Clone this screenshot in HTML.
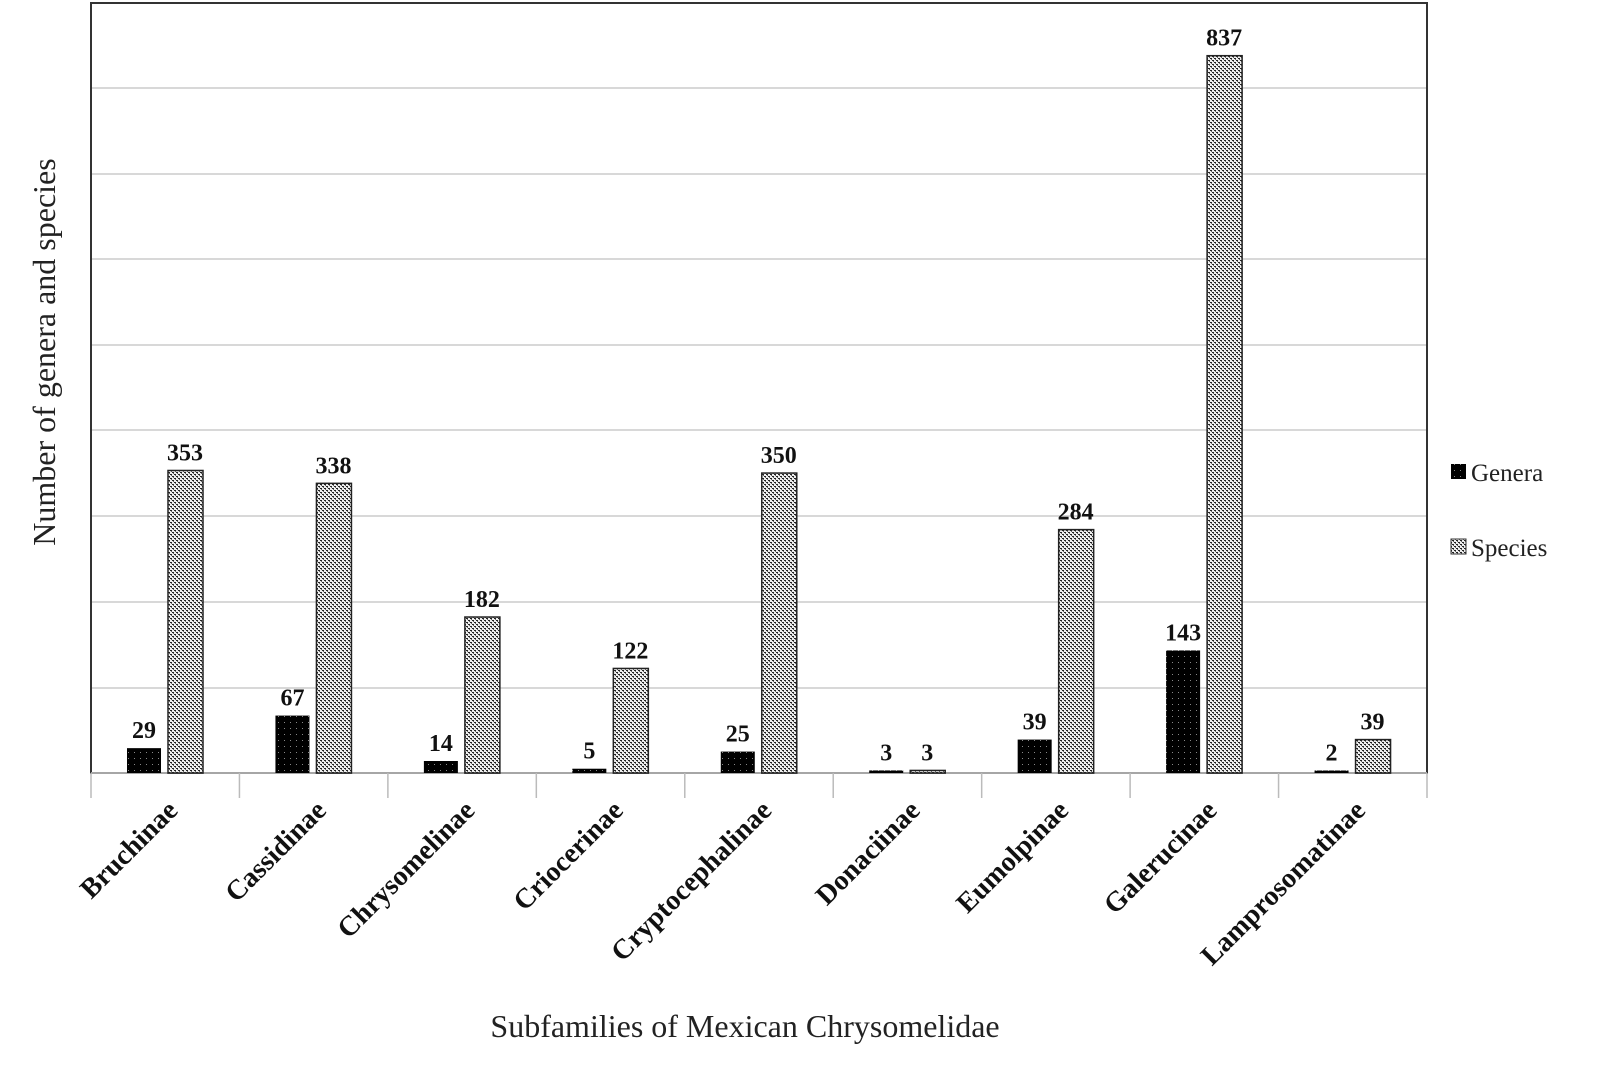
<!DOCTYPE html>
<html><head><style>body{margin:0;background:#fff}svg{display:block}</style></head><body>
<svg width="1600" height="1069" xmlns="http://www.w3.org/2000/svg" font-family="Liberation Serif, serif">
<defs>
<pattern id="gp" width="6" height="6" patternUnits="userSpaceOnUse"><rect width="6" height="6" fill="#000"/><rect x="2" y="2" width="1" height="1" fill="#888"/></pattern>
<pattern id="sp" width="4" height="4" patternUnits="userSpaceOnUse"><rect width="4" height="4" fill="#eee"/><rect x="0" y="0" width="2" height="1" fill="#222"/><rect x="2" y="2" width="2" height="1" fill="#222"/><rect x="1" y="1" width="1" height="1" fill="#666"/><rect x="3" y="3" width="1" height="1" fill="#666"/></pattern>
</defs>
<rect x="91" y="3" width="1336" height="770" fill="#fff" stroke="#333" stroke-width="2"/>
<g stroke="#ccc" stroke-width="1.5">
<line x1="92" x2="1426" y1="88" y2="88"/><line x1="92" x2="1426" y1="174" y2="174"/><line x1="92" x2="1426" y1="259" y2="259"/><line x1="92" x2="1426" y1="345" y2="345"/><line x1="92" x2="1426" y1="430" y2="430"/><line x1="92" x2="1426" y1="516" y2="516"/><line x1="92" x2="1426" y1="602" y2="602"/><line x1="92" x2="1426" y1="688" y2="688"/>
<line x1="91" x2="1427" y1="773" y2="773"/>
</g>
<g stroke="#bbb" stroke-width="1.5" id="ticks"></g>
<g id="bars"></g>
<g font-size="28" text-anchor="end" font-weight="bold" fill="#111" id="labs"></g>
<text x="745" y="1037" font-size="32" text-anchor="middle" fill="#222">Subfamilies of Mexican Chrysomelidae</text>
<text transform="translate(55,352) rotate(-90)" font-size="32" text-anchor="middle" fill="#222">Number of genera and species</text>
<rect x="1451" y="464" width="15" height="15" fill="url(#gp)"/>
<text x="1471" y="481" font-size="25" fill="#222">Genera</text>
<rect x="1451" y="539" width="15" height="15" fill="url(#sp)" stroke="#333" stroke-width="1"/>
<text x="1471" y="556" font-size="25" fill="#222">Species</text>
<script>
var names=["Bruchinae","Cassidinae","Chrysomelinae","Criocerinae","Cryptocephalinae","Donaciinae","Eumolpinae","Galerucinae","Lamprosomatinae"];
var g=[29,67,14,5,25,3,39,143,2], s=[353,338,182,122,350,3,284,837,39];
var ns="http://www.w3.org/2000/svg",B=document.getElementById("bars"),L=document.getElementById("labs"),T=document.getElementById("ticks");
function el(t,a,p,txt){var e=document.createElementNS(ns,t);for(var k in a)e.setAttribute(k,a[k]);if(txt!=null)e.textContent=txt;p.appendChild(e);return e;}
var w=1336/9;
for(var i=0;i<=9;i++){var x=91+w*i;el("line",{x1:x,x2:x,y1:773,y2:798},T);}
for(var i=0;i<9;i++){var x0=91+w*i;
 var hg=Math.max(g[i]*0.857,2.5),hs=Math.max(s[i]*0.857,2.5);
 el("rect",{x:x0+36,y:773-hg,width:34,height:hg,fill:"url(#gp)"},B);
 el("rect",{x:x0+77,y:773-hs,width:35,height:hs,fill:"url(#sp)",stroke:"#222","stroke-width":1.5},B);
 el("text",{x:x0+53,y:773-hg-10,"font-size":24,"text-anchor":"middle","font-weight":"bold",fill:"#111"},B,g[i]);
 el("text",{x:x0+94,y:773-hs-10,"font-size":24,"text-anchor":"middle","font-weight":"bold",fill:"#111"},B,s[i]);
 var cx=x0+w/2+14,cy=812;
 el("text",{x:cx,y:cy,transform:"rotate(-45 "+cx+" "+cy+")"},L,names[i]);
}
</script>
</svg>
</body></html>
